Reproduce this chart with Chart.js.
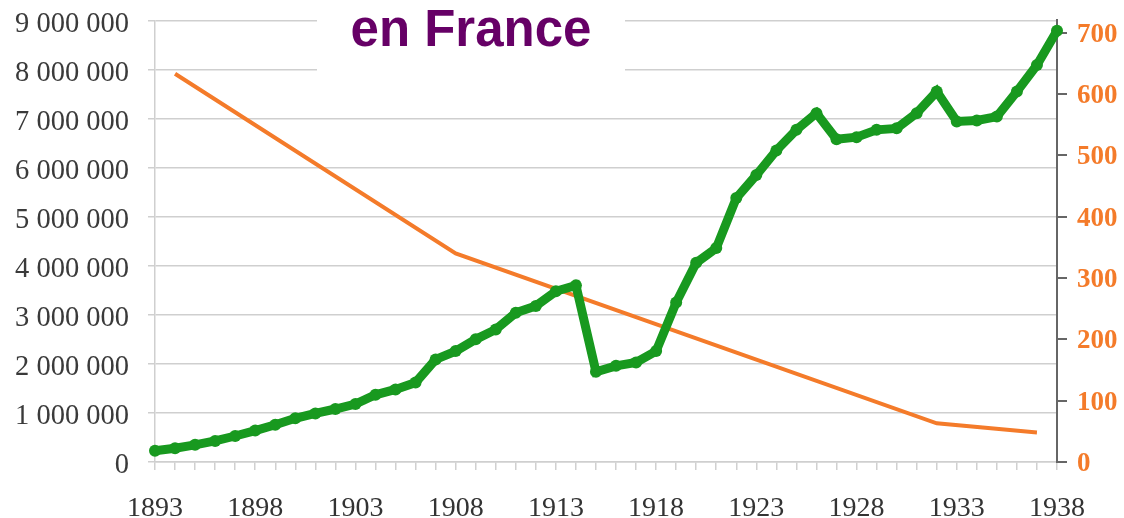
<!DOCTYPE html>
<html>
<head>
<meta charset="utf-8">
<script src="https://cdn.jsdelivr.net/npm/chart.js@4/dist/chart.umd.min.js"></script>
<style>
  body { margin: 0; background: #fff; }
  #wrap { position: relative; width: 1124px; height: 518px; }
  #titre {
    position: absolute; left: 317px; top: 0; width: 308px; height: 80px;
    background: #fff; text-align: center;
    font: bold 51px "Liberation Sans", Arial, sans-serif; line-height: 51px;
    padding-top: 3px; box-sizing: border-box; color: #660066;
  }
</style>
</head>
<body>
<div id="wrap">
  <canvas id="graph" width="1124" height="518"></canvas>
  <div id="titre">en France</div>
</div>
<script>
const years = [1893, 1894, 1895, 1896, 1897, 1898, 1899, 1900, 1901, 1902,
  1903, 1904, 1905, 1906, 1907, 1908, 1909, 1910, 1911, 1912,
  1913, 1914, 1915, 1916, 1917, 1918, 1919, 1920, 1921, 1922,
  1923, 1924, 1925, 1926, 1927, 1928, 1929, 1930, 1931, 1932,
  1933, 1934, 1935, 1936, 1937, 1938];

const greenValues = [230000, 280000, 350000, 430000, 530000, 640000, 760000, 890000, 990000, 1080000,
  1180000, 1370000, 1480000, 1620000, 2090000, 2260000, 2500000, 2700000, 3040000, 3180000,
  3480000, 3600000, 1840000, 1960000, 2030000, 2260000, 3250000, 4060000, 4360000, 5380000,
  5850000, 6350000, 6770000, 7110000, 6580000, 6620000, 6770000, 6800000, 7110000, 7550000,
  6940000, 6960000, 7040000, 7550000, 8090000, 8790000];

const orangeYears = [1894, 1908, 1932, 1937];
const orangeValues = [633, 340, 63, 48];

const leftTicks = [0, 1000000, 2000000, 3000000, 4000000, 5000000, 6000000, 7000000, 8000000, 9000000];
const rightTicks = [0, 100, 200, 300, 400, 500, 600, 700];

// série orange alignée sur les années
const orangeData = years.map(y => {
  const i = orangeYears.indexOf(y);
  return i >= 0 ? orangeValues[i] : null;
});

function espaces(v) {
  return String(v).replace(/\B(?=(\d{3})+(?!\d))/g, " ");
}

const ctx = document.getElementById("graph").getContext("2d");
new Chart(ctx, {
  type: "line",
  data: {
    labels: years,
    datasets: [
      {
        data: greenValues,
        yAxisID: "y",
        borderColor: "#18991f",
        backgroundColor: "#18991f",
        borderWidth: 9,
        pointRadius: 6,
        pointBorderWidth: 0,
        tension: 0,
      },
      {
        data: orangeData,
        yAxisID: "y1",
        spanGaps: true,
        borderColor: "#f47b2a",
        borderWidth: 4,
        pointRadius: 0,
        tension: 0,
      },
    ],
  },
  options: {
    responsive: false,
    animation: false,
    layout: { padding: { top: 5, left: 0, right: 0, bottom: 0 } },
    plugins: { legend: { display: false }, tooltip: { enabled: false } },
    scales: {
      x: {
        grid: { drawOnChartArea: false, drawTicks: true, tickLength: 8, color: "#d0d0d0", lineWidth: 1.5 },
        border: { color: "#cfcfcf", width: 1.5 },
        ticks: {
          autoSkip: false, maxRotation: 0, padding: 22,
          color: "#333", font: { family: "Liberation Serif", size: 28 },
          callback: function (v, i) { return (years[i] - 1893) % 5 === 0 ? String(years[i]) : ""; },
        },
        afterFit: s => { s.height = 56; },
      },
      y: {
        position: "left",
        min: 0, max: 9000000,
        afterBuildTicks: s => { s.ticks = leftTicks.map(v => ({ value: v })); },
        grid: { color: "#cfcfcf", lineWidth: 1.5, tickLength: 7 },
        border: { color: "#cfcfcf", width: 1.5 },
        ticks: {
          padding: 19, color: "#3a3a3a", labelOffset: 4,
          font: { family: "Liberation Serif", size: 28.5, lineHeight: 0.1 },
          callback: v => espaces(v),
        },
        afterFit: s => { s.width = 155; },
      },
      y1: {
        position: "right",
        min: 0, max: 720,
        afterBuildTicks: s => { s.ticks = rightTicks.map(v => ({ value: v })); },
        grid: { drawOnChartArea: false, color: "#666", lineWidth: 2, tickLength: 10 },
        border: { color: "#666", width: 2 },
        ticks: {
          padding: 10, color: "#f47b2a", labelOffset: 2,
          font: { family: "Liberation Serif", size: 27, weight: "bold", lineHeight: 0.1 },
        },
        afterFit: s => { s.width = 67; },
      },
    },
  },
});
</script>
</body>
</html>
